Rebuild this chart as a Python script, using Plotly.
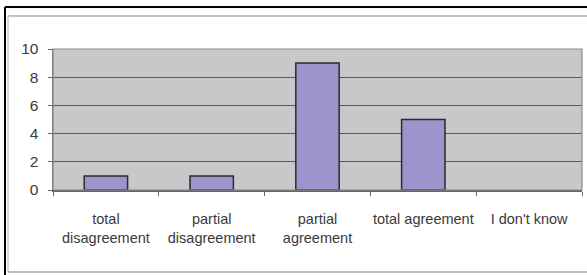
import plotly.graph_objects as go

categories = ["total<br>disagreement", "partial<br>disagreement", "partial<br>agreement",
              "total agreement", "I don't know"]
values = [1, 1, 9, 5, 0]
y_ticks = [0, 2, 4, 6, 8, 10]

L, R, T, B = 53, 5, 49, 85
W, H = 587, 275
pw = W - L - R
ph = H - T - B

def px_x(p):
    return (p - L) / pw

def px_y(p):
    return (H - B - p) / ph

fig = go.Figure()
fig.add_trace(go.Bar(
    x=categories, y=values, width=0.41,
    marker=dict(color="#9c95cd",
                line=dict(color="#2b2b2b", width=[1.5 if v > 0 else 0 for v in values])),
))

shapes = [
    dict(type="line", xref="paper", yref="paper", x0=px_x(5), x1=px_x(590), y0=px_y(7), y1=px_y(7),
         line=dict(color="#000000", width=2)),
    dict(type="line", xref="paper", yref="paper", x0=px_x(5), x1=px_x(5), y0=px_y(7), y1=px_y(280),
         line=dict(color="#000000", width=2)),
    dict(type="line", xref="paper", yref="paper", x0=px_x(8), x1=px_x(590), y0=px_y(16), y1=px_y(16),
         line=dict(color="#b0b0b0", width=1.5)),
    dict(type="line", xref="paper", yref="paper", x0=px_x(8), x1=px_x(8), y0=px_y(16), y1=px_y(272),
         line=dict(color="#c8c8c8", width=1.5)),
    dict(type="line", xref="paper", yref="paper", x0=px_x(8), x1=px_x(590), y0=px_y(272), y1=px_y(272),
         line=dict(color="#a8a8a8", width=1.5)),
    dict(type="rect", xref="paper", yref="paper", x0=0, x1=1, y0=0, y1=1,
         line=dict(color="#8a8a8a", width=1.2), layer="above"),
]

fig.update_layout(
    width=W, height=H,
    margin=dict(l=L, r=R, t=T, b=B, autoexpand=False),
    paper_bgcolor="#ffffff",
    plot_bgcolor="#c8c8ca",
    showlegend=False,
    shapes=shapes,
    font=dict(family="Liberation Sans, Arial, sans-serif", size=14.5, color="#3a3a3a"),
    xaxis=dict(
        type="category", tickson="boundaries", ticks="outside", ticklen=4,
        tickcolor="#666666", showline=True, linecolor="#666666", linewidth=1.5,
        showgrid=False, tickfont=dict(size=14.5, color="#3a3a3a"), tickangle=0,
        ticklabelstandoff=15, automargin=False,
    ),
    yaxis=dict(
        range=[0, 10], tickvals=y_ticks, ticks="outside", ticklen=4,
        tickcolor="#666666", showline=True, linecolor="#666666", linewidth=1.5,
        showgrid=True, gridcolor="#5a5a5a", gridwidth=1, zeroline=False,
        tickfont=dict(size=15.5, color="#3a3a3a"), ticklabelstandoff=6, automargin=False,
    ),
)

fig.write_html("out.html", config={"displayModeBar": False, "staticPlot": True},
               post_script="document.body.style.margin='0';document.body.style.overflow='hidden';")
